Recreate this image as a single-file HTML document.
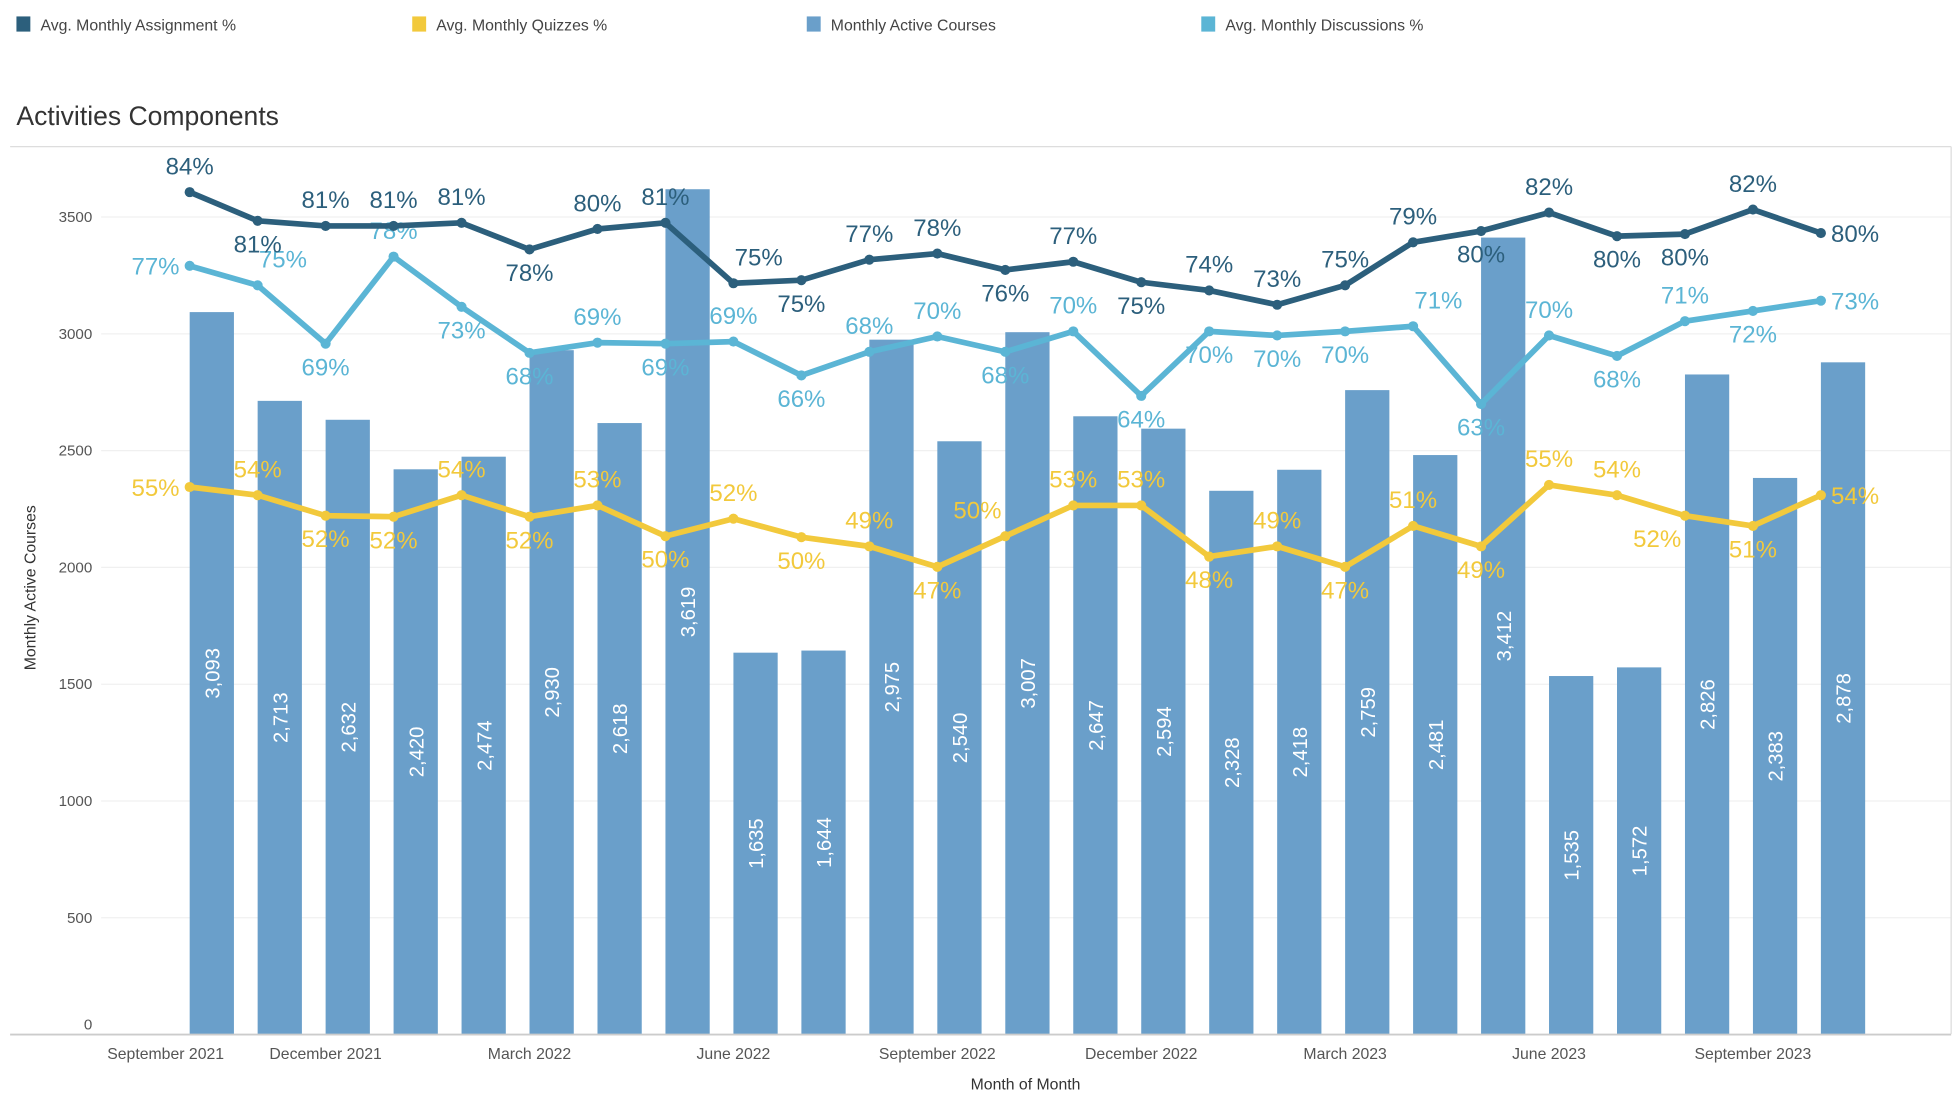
<!DOCTYPE html>
<html><head><meta charset="utf-8"><style>
html,body{margin:0;padding:0;background:#fff;}
svg{display:block;font-family:"Liberation Sans",Arial,sans-serif;}
</style></head><body>
<svg id="chart" width="1960" height="1106" viewBox="0 0 1550 875" preserveAspectRatio="none">
<g font-size="12.5" fill="#444">
<g><rect x="13" y="13" width="11" height="12" fill="#2c5f7c"/><text x="32" y="24">Avg. Monthly Assignment %</text></g>
<g><rect x="326" y="13" width="11" height="12" fill="#f2c93c"/><text x="345" y="24">Avg. Monthly Quizzes %</text></g>
<g><rect x="638" y="13" width="11" height="12" fill="#6a9fca"/><text x="657" y="24">Monthly Active Courses</text></g>
<g><rect x="950" y="13" width="11" height="12" fill="#5bb5d5"/><text x="969" y="24">Avg. Monthly Discussions %</text></g>
</g>
<text x="13" y="99" font-size="21" fill="#333">Activities Components</text>
<g id="grid"></g>
<line x1="8" y1="116" x2="1543" y2="116" stroke="#ddd"/>
<line x1="1543" y1="116" x2="1543" y2="818" stroke="#ddd"/>
<g id="bars"></g>
<g id="lines"></g>
<line x1="8" y1="818.5" x2="1543" y2="818.5" stroke="#ccc" stroke-width="1.5"/>
<g id="yticks" font-size="12" fill="#555" text-anchor="end"></g>
<g id="xticks" font-size="12.5" fill="#555" text-anchor="middle"></g>
<text transform="translate(28,465) rotate(-90)" text-anchor="middle" font-size="12.5" fill="#333">Monthly Active Courses</text>
<text x="811" y="862" text-anchor="middle" font-size="12.5" fill="#333">Month of Month</text>
</svg>
<script>
const courses=[3093,2713,2632,2420,2474,2930,2618,3619,1635,1644,2975,2540,3007,2647,2594,2328,2418,2759,2481,3412,1535,1572,2826,2383,2878];
const assignment=[84.0,81.2,80.7,80.7,81.0,78.4,80.4,81.0,75.1,75.4,77.4,78.0,76.4,77.2,75.2,74.4,73.0,74.9,79.1,80.2,82.0,79.7,79.9,82.3,80.0];
const discussions=[76.8,74.9,69.2,77.7,72.8,68.3,69.3,69.2,69.4,66.1,68.4,69.9,68.4,70.4,64.1,70.4,70.0,70.4,70.9,63.3,70.0,68.0,71.4,72.4,73.4];
const quizzes=[55.2,54.4,52.4,52.3,54.4,52.3,53.4,50.4,52.1,50.3,49.4,47.4,50.4,53.4,53.4,48.4,49.4,47.4,51.4,49.4,55.4,54.4,52.4,51.4,54.4];
const assignPos=['a','b','a','a','a','b','a','a','ar','b','a','a','b','a','b','a','a','a','a','b','a','b','b','a','r'];
const discPos=['l','ar','b','a','b','b','a','b','a','b','a','a','b','a','b','b','b','b','ar','b','a','b','a','b','r'];
const quizPos=['l','a','b','b','a','b','a','b','a','b','a','b','al','a','a','b','a','b','a','b','a','a','bl','b','r'];
const yTicks=[0,500,1000,1500,2000,2500,3000,3500];
const xLabels=['September 2021','December 2021','March 2022','June 2022','September 2022','December 2022','March 2023','June 2023','September 2023'];
const xLabelIdx=[-1,2,5,8,11,14,17,20,23];

const NS='http://www.w3.org/2000/svg';
const X0=150,STEP=53.75,BW=35,Y0=818.5,YS=0.1848;
const xB=i=>X0+i*STEP;
const yC=v=>Y0-v*YS;
const yP=v=>152+(84-v)*8.1;
function mk(t,a,p){const e=document.createElementNS(NS,t);for(const k in a)e.setAttribute(k,a[k]);p.appendChild(e);return e;}
const grid=document.getElementById('grid'),yt=document.getElementById('yticks');
yTicks.forEach(v=>{
  const l=mk('line',{x1:80,x2:1543,y1:yC(v),y2:yC(v),stroke:'#f0f0f0'},grid);
  
  
  const t=mk('text',{x:73,y:(v===0?yC(v)-4:yC(v)+4)},yt);t.textContent=v;
  
  
});
const xt=document.getElementById('xticks');
xLabels.forEach((s,k)=>{
  const t=mk('text',{x:Math.max(131,xB(xLabelIdx[k])),y:838},xt);t.textContent=s;
  
  
});
const bars=document.getElementById('bars');
courses.forEach((v,i)=>{
  const r=mk('rect',{x:xB(i),y:yC(v),width:BW,height:Y0-yC(v),fill:'#6a9fca'},bars);
  
  
  const cx=xB(i)+BW/2,cy=(yC(v)+Y0)/2;
  const t=mk('text',{transform:`translate(${cx+6},${cy}) rotate(-90)`,'text-anchor':'middle','font-size':16,fill:'#fff'},bars);
  t.textContent=v.toLocaleString('en-US');
  
  
});
const lines=document.getElementById('lines');
function series(vals,pos,color,name){
  const g=mk('g',{},lines);
  
  
  const pts=vals.map((v,i)=>[xB(i),yP(v)]);
  const p=mk('polyline',{points:pts.map(q=>q.join(',')).join(' '),fill:'none',stroke:color,'stroke-width':4.5,'stroke-linejoin':'round'},g);
  
  
  pts.forEach((q,i)=>{
    const c=mk('circle',{cx:q[0],cy:q[1],r:4,fill:color},g);
    
    
    const ps=pos[i];let x=q[0],y=q[1],a='middle';
    if(ps[0]==='a')y-=14;else if(ps[0]==='b')y+=25;else if(ps==='l'){x-=8;y+=7;a='end';}else if(ps==='r'){x+=8;y+=7;a='start';}
    if(ps==='ar')x+=20;if(ps==='al'||ps==='bl')x-=22;
    const t=mk('text',{x:x,y:y,'text-anchor':a,'font-size':19,fill:color},g);
    t.textContent=Math.round(vals[i])+'%';
    
    
  });
}
series(quizzes,quizPos,'#f2c93c','quizzes');
series(discussions,discPos,'#5bb5d5','discussions');
series(assignment,assignPos,'#2c5f7c','assignment');
</script>
</body></html>
